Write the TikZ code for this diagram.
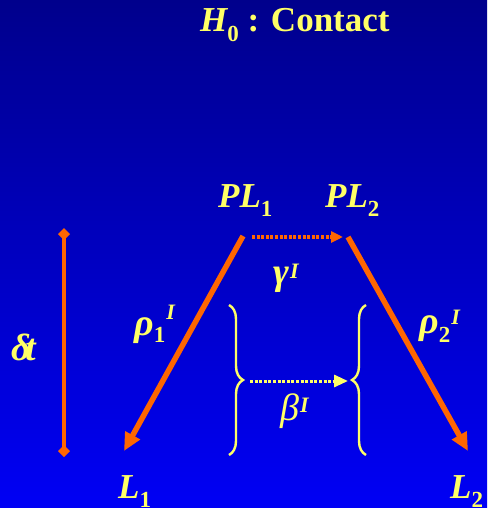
\documentclass[tikz,border=0pt]{standalone}
\usepackage{fontspec}
\setmainfont{Liberation Serif}
\usetikzlibrary{arrows.meta,decorations.pathreplacing}
\definecolor{ylw}{HTML}{FFFF66}
\definecolor{org}{HTML}{FF6600}
\definecolor{bgtop}{RGB}{0,0,140}
\definecolor{bgmid}{RGB}{0,0,215}
\definecolor{bgbot}{RGB}{0,0,245}
\newcommand{\mysub}[2]{\raisebox{#1}{\fontsize{23}{23}\selectfont\bfseries\upshape #2}}
\newcommand{\mysup}[2]{\raisebox{#1}{\fontsize{22}{22}\selectfont\bfseries\itshape #2}}
\tikzset{
  lbl/.style={anchor=base west, inner sep=0pt, text=ylw, font=\fontsize{35}{40}\selectfont\bfseries\itshape},
  glbl/.style={anchor=base west, inner sep=0pt, text=ylw, font=\fontsize{38}{42}\selectfont\bfseries\itshape},
  glblthin/.style={anchor=base west, inner sep=0pt, text=ylw, font=\fontsize{38}{42}\selectfont\itshape},
  mainarrow/.style={draw=org, line width=5.5pt, -{Triangle[length=18pt,width=16pt]}},
  dotorg/.style={draw=org, line width=3.2pt, dash pattern=on 3pt off 1.6pt, -{Triangle[length=12pt,width=11pt]}},
  dotylw/.style={draw=ylw, line width=3pt, dash pattern=on 3pt off 1.6pt, -{Triangle[length=14pt,width=12pt]}},
  bracey/.style={draw=ylw, line width=2.4pt, decorate, decoration={brace, amplitude=14pt}},
  deltaline/.style={draw=org, line width=3.6pt, {Diamond[length=12pt,width=12pt]}-{Diamond[length=12pt,width=12pt]}}
}
\begin{document}
\begin{tikzpicture}[x=1pt,y=-1pt]
\useasboundingbox (0,0) rectangle (487,508);
\shade[top color=bgtop, middle color=bgmid, bottom color=bgbot] (0,0) rectangle (487,508);
% title
\node[lbl] (title) at (200,32) {H\mysub{-0.28em}{0}\upshape\ : Contact};
% top labels
\node[lbl] (PL1) at (218,207) {PL\mysub{-0.28em}{1}};
\node[lbl] (PL2) at (325,207) {PL\mysub{-0.28em}{2}};
\node[lbl] (L1) at (118,498) {L\mysub{-0.28em}{1}};
\node[lbl] (L2) at (450,498) {L\mysub{-0.28em}{2}};
% greek labels
\node[glbl] (gam) at (273,284) {γ\kern1pt\mysup{0.15em}{I}};
\node[glblthin] (bet) at (280,420) {β\kern1pt\mysup{0.2em}{I}};
\node[glbl] (rho1) at (134,335) {ρ\mysub{-0.2em}{1}\kern1pt\mysup{0.4em}{I}};
\node[glbl] (rho2) at (419,333) {ρ\mysub{-0.25em}{2}\kern1pt\mysup{0.22em}{I}};
\node[glbl] (dt) at (11,360) {δ\kern-5pt t};
% coordinates
\coordinate (a1) at (243,236);
\coordinate (b1) at (124,451);
\coordinate (a2) at (348,237);
\coordinate (b2) at (468,451);
\coordinate (g1) at (252,237);
\coordinate (g2) at (343,237);
\coordinate (be1) at (250,381);
\coordinate (be2) at (348,381);
\coordinate (dtop) at (64,228);
\coordinate (dbot) at (64,457);
\coordinate (lbt) at (229,305);
\coordinate (lbb) at (229,455);
\coordinate (rbt) at (366,305);
\coordinate (rbb) at (366,455);
% drawing
\draw[mainarrow] (a1) -- (b1);
\draw[mainarrow] (a2) -- (b2);
\draw[dotorg] (g1) -- (g2);
\draw[dotylw] (be1) -- (be2);
\draw[deltaline] (dtop) -- (dbot);
\draw[bracey] (lbt) -- (lbb);
\draw[bracey] (rbb) -- (rbt);
\end{tikzpicture}
\end{document}
